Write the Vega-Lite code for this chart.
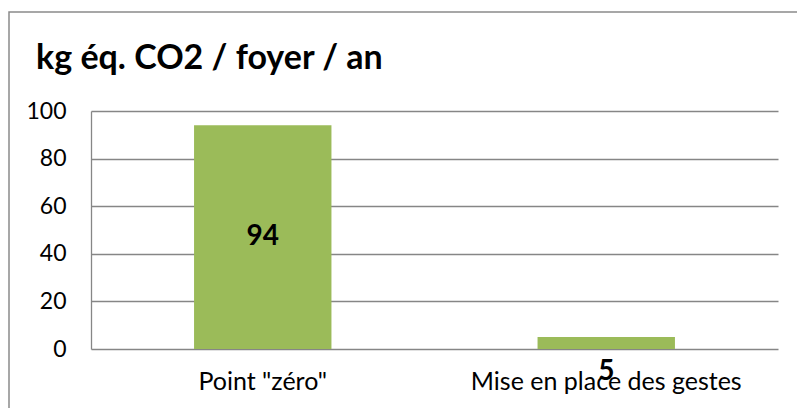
{
  "$schema": "https://vega.github.io/schema/vega-lite/v6.json",
  "autosize": "none",
  "width": 800,
  "height": 406,
  "padding": {"left": 9, "top": 12, "right": 0, "bottom": 0},
  "background": "white",
  "title": {
    "text": "kg éq. CO2 / foyer / an",
    "anchor": "start",
    "frame": "group",
    "font": "Lato",
    "fontSize": 34,
    "fontWeight": "bold",
    "color": "#000000",
    "baseline": "alphabetic",
    "offset": 0,
    "dx": 27,
    "dy": 91,
    "limit": 0
  },
  "data": {
    "values": [
      {"categorie": "Point \"zéro\"", "value": 94},
      {"categorie": "Mise en place des gestes", "value": 5}
    ]
  },
  "transform": [{"calculate": "datum.value / 2", "as": "mid"}],
  "encoding": {
    "x": {
      "field": "categorie",
      "type": "nominal",
      "sort": null,
      "scale": {"range": [82, 769], "paddingInner": 0.6, "paddingOuter": 0.3},
      "axis": {
        "title": null,
        "orient": "bottom",
        "offset": -69,
        "domain": false,
        "ticks": false,
        "grid": false,
        "labelAngle": 0,
        "labelFont": "Lato",
        "labelFontSize": 25,
        "labelColor": "#000000",
        "labelPadding": 20,
        "labelBaseline": "top",
        "labelLimit": 0
      }
    }
  },
  "layer": [
    {
      "mark": {"type": "bar", "color": "#9BBB59"},
      "encoding": {
        "y": {
          "field": "value",
          "type": "quantitative",
          "scale": {"domain": [0, 100], "range": [337, 99], "nice": false},
          "axis": {
            "title": null,
            "orient": "left",
            "offset": -82,
            "values": [0, 20, 40, 60, 80, 100],
            "ticks": false,
            "domain": true,
            "domainColor": "#868686",
            "domainWidth": 1.3,
            "grid": true,
            "gridColor": "#868686",
            "gridWidth": 1.3,
            "labelFont": "Lato",
            "labelFontSize": 23,
            "labelColor": "#000000",
            "labelPadding": 25,
            "labelBaseline": "middle"
          }
        }
      }
    },
    {
      "transform": [{"filter": "datum.value >= 10"}],
      "mark": {"type": "text", "font": "Lato", "fontSize": 28, "fontWeight": "bold", "color": "#000000", "baseline": "middle"},
      "encoding": {
        "y": {"field": "mid", "type": "quantitative"},
        "text": {"field": "value", "type": "quantitative"}
      }
    },
    {
      "transform": [{"filter": "datum.value < 10"}],
      "mark": {"type": "text", "font": "Lato", "fontSize": 28, "fontWeight": "bold", "color": "#000000", "baseline": "middle", "dy": 29},
      "encoding": {
        "y": {"field": "mid", "type": "quantitative"},
        "text": {"field": "value", "type": "quantitative"}
      }
    }
  ],
  "config": {
    "view": {"stroke": "#8a8a8a", "strokeWidth": 1.5}
  }
}
